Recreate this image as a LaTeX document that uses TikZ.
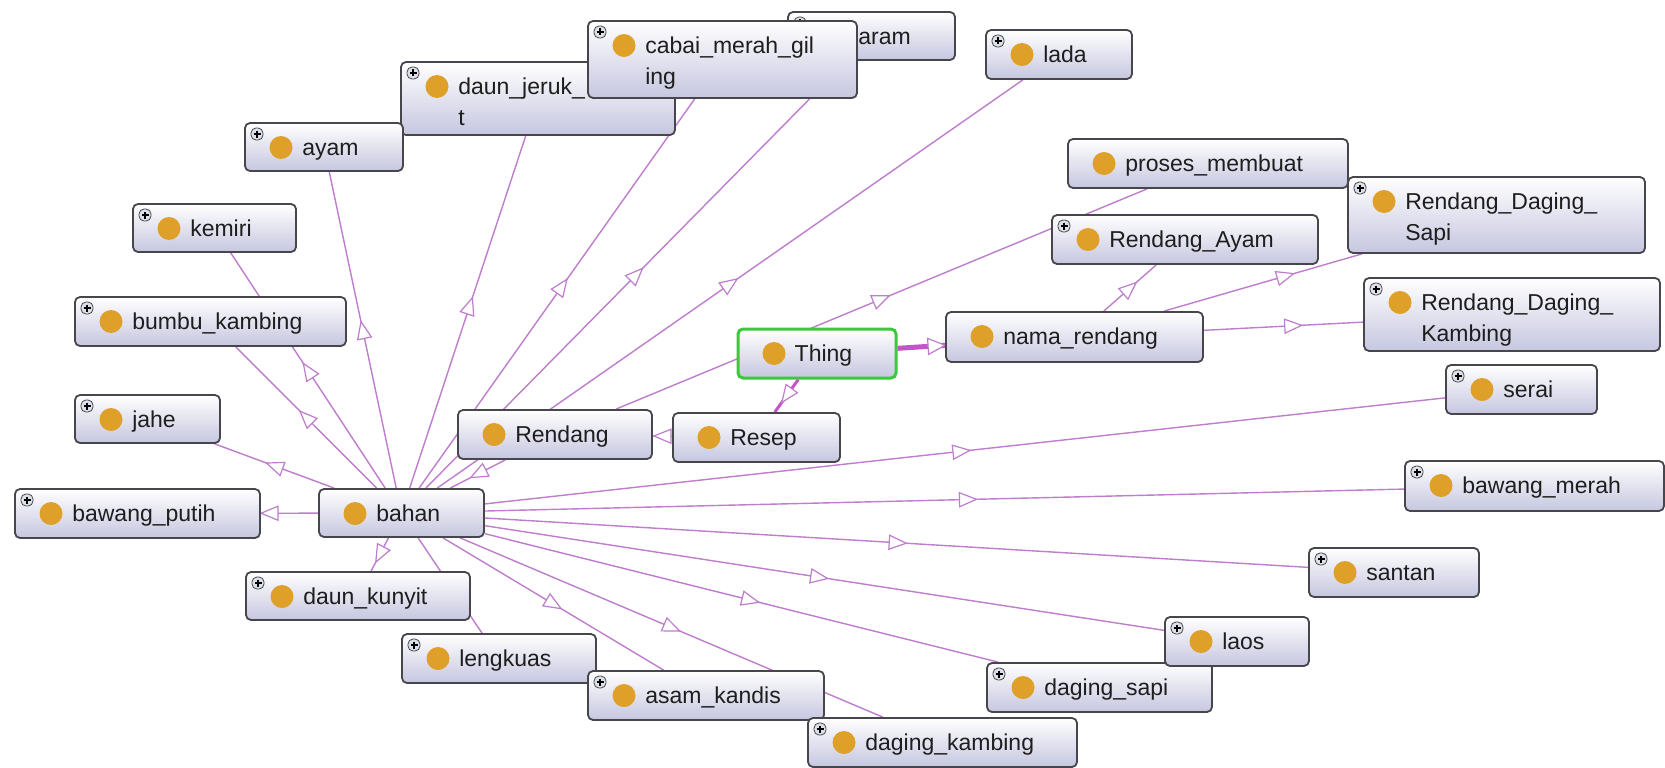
\documentclass[tikz,border=0pt]{standalone}
\usepackage{fontspec}
\setmainfont{Liberation Sans}
\usetikzlibrary{decorations.markings}
\pgfdeclarelayer{background}
\pgfsetlayers{background,main}

\definecolor{edgecol}{RGB}{190,125,205}
\definecolor{thickcol}{RGB}{196,84,200}
\definecolor{boxline}{RGB}{70,70,76}
\definecolor{boxlow}{RGB}{198,198,224}
\definecolor{dotcol}{RGB}{222,160,40}
\definecolor{thinggreen}{RGB}{60,200,60}
\definecolor{txtcol}{RGB}{30,30,30}
\definecolor{plusfill}{RGB}{220,224,232}

\tikzset{
  cls/.style={rectangle, rounded corners=5pt, draw=boxline, line width=1.8pt,
    top color=white, bottom color=boxlow, inner sep=0pt,
    path picture={
      \fill[dotcol] ([shift={(36pt,-24.5pt)}]path picture bounding box.north west) circle (11.5pt);
    }},
  expandable/.style={cls,
    path picture={
      \fill[dotcol] ([shift={(36pt,-24.5pt)}]path picture bounding box.north west) circle (11.5pt);
      \draw[boxline, line width=0.8pt, fill=plusfill]
        ([shift={(6pt,-5pt)}]path picture bounding box.north west) rectangle ++(12pt,-12pt);
      \draw[black, line width=1.5pt]
        ([shift={(8.5pt,-11pt)}]path picture bounding box.north west) -- ++(7pt,0pt);
      \draw[black, line width=1.5pt]
        ([shift={(12pt,-7.5pt)}]path picture bounding box.north west) -- ++(0pt,-7pt);
    }},
  root/.style={cls, draw=thinggreen, line width=3pt},
  lbl/.style={anchor=base west, inner sep=0pt, text=txtcol, font=\fontsize{23}{28}\selectfont},
  link/.style={draw=edgecol, line width=1.4pt},
  thicklink/.style={draw=thickcol, line width=3pt},
  hollowtri/.style={draw=edgecol, line width=1.2pt, fill=white, line join=miter},
  isa/.style={decorate, decoration={markings, mark=at position 0.5 with {
      \draw[hollowtri] (8.5pt,0pt) -- (-8.5pt,7pt) -- (-8.5pt,-7pt) -- cycle;}}},
  isatip/.style={postaction={decorate}, decoration={markings, mark=at position 0.999 with {
      \draw[hollowtri] (0pt,0pt) -- (-17pt,8pt) -- (-17pt,-8pt) -- cycle;}}},
  isamid/.style={postaction={decorate}, decoration={markings, mark=at position 0.5 with {
      \draw[hollowtri] (8.5pt,0pt) -- (-8.5pt,7pt) -- (-8.5pt,-7pt) -- cycle;}}},
}

% class box: style, name, centre x, centre y, width, height
\newcommand\cbox[6]{\node[#1, minimum width=#5pt, minimum height=#6pt] (#2) at (#3,#4) {};}
% first and second text line of a class box
\newcommand\lineA[2]{\node[lbl] (#1-a) at ([shift={(58pt,-33.5pt)}]#1.north west) {#2};}
\newcommand\lineB[2]{\node[lbl] (#1-b) at ([shift={(58pt,-64.5pt)}]#1.north west) {#2};}

\begin{document}
\begin{tikzpicture}[x=1pt, y=-1pt]
\useasboundingbox (0,0) rectangle (1665,768);

% ---- classes ----
\cbox{expandable}{garam}{871.5}{36}{167}{48}
\node[lbl] (garam-a) at ([shift={(71pt,-33.5pt)}]garam.north west) {aram};
\cbox{expandable}{daunjeruk}{538}{98.5}{274}{73}
\lineA{daunjeruk}{daun\_jeruk\_}
\lineB{daunjeruk}{t}
\cbox{expandable}{cabai}{722.5}{59.5}{269}{77}
\lineA{cabai}{cabai\_merah\_gil}
\lineB{cabai}{ing}
\cbox{expandable}{lada}{1059}{54.5}{146}{49}
\lineA{lada}{lada}
\cbox{expandable}{ayam}{324}{147}{158}{48}
\lineA{ayam}{ayam}
\cbox{expandable}{kemiri}{214.5}{228}{163}{48}
\lineA{kemiri}{kemiri}
\cbox{expandable}{bumbu}{210.5}{321.5}{271}{49}
\lineA{bumbu}{bumbu\_kambing}
\cbox{expandable}{jahe}{147.5}{419}{145}{48}
\lineA{jahe}{jahe}
\cbox{expandable}{bawangputih}{137.5}{513.5}{245}{49}
\lineA{bawangputih}{bawang\_putih}
\cbox{cls}{bahan}{401.5}{513}{165}{48}
\lineA{bahan}{bahan}
\cbox{expandable}{daunkunyit}{358}{596}{224}{48}
\lineA{daunkunyit}{daun\_kunyit}
\cbox{expandable}{lengkuas}{499}{658.5}{194}{49}
\lineA{lengkuas}{lengkuas}
\cbox{expandable}{asam}{706}{695.5}{236}{49}
\lineA{asam}{asam\_kandis}
\cbox{expandable}{dagingkambing}{942.5}{742.5}{269}{49}
\lineA{dagingkambing}{daging\_kambing}
\cbox{expandable}{dagingsapi}{1099.5}{687.5}{225}{49}
\lineA{dagingsapi}{daging\_sapi}
\cbox{expandable}{laos}{1237}{641.5}{144}{49}
\lineA{laos}{laos}
\cbox{expandable}{santan}{1394}{572.5}{170}{49}
\lineA{santan}{santan}
\cbox{expandable}{bawangmerah}{1534.5}{486}{259}{50}
\lineA{bawangmerah}{bawang\_merah}
\cbox{expandable}{serai}{1521.5}{389.5}{151}{49}
\lineA{serai}{serai}
\cbox{expandable}{rdk}{1512}{314.5}{296}{73}
\lineA{rdk}{Rendang\_Daging\_}
\lineB{rdk}{Kambing}
\cbox{expandable}{rds}{1496.5}{215}{297}{76}
\lineA{rds}{Rendang\_Daging\_}
\lineB{rds}{Sapi}
\cbox{cls}{proses}{1208}{163.5}{280}{49}
\lineA{proses}{proses\_membuat}
\cbox{expandable}{rayam}{1185}{239.5}{266}{49}
\lineA{rayam}{Rendang\_Ayam}
\cbox{cls}{nama}{1074.5}{337}{257}{50}
\lineA{nama}{nama\_rendang}
\cbox{root}{thing}{817}{353.5}{158}{49}
\lineA{thing}{Thing}
\cbox{cls}{resep}{756.5}{437.5}{167}{49}
\lineA{resep}{Resep}
\cbox{cls}{rendang}{555}{434.5}{194}{49}
\lineA{rendang}{Rendang}

% ---- subclass links, behind the boxes ----
\begin{pgfonlayer}{background}
\fill[white] (0,0) rectangle (1665,768);
\foreach \t in {ayam,kemiri,bumbu,jahe,bawangputih,daunkunyit,lengkuas,asam,
  dagingkambing,dagingsapi,laos,santan,bawangmerah,serai,lada,garam,cabai,daunjeruk}
  {\draw[link] (bahan) -- (\t);}
\draw[link] (rendang) -- (bahan);
\draw[link] (rendang) -- (proses);
\draw[link, isamid] (resep) -- (rendang);
\foreach \t in {rayam,rds,rdk} {\draw[link] (nama) -- (\t);}
\draw[thicklink] (thing) -- (resep);
\draw[thicklink, line width=5pt, isatip] (thing) -- (nama);

\foreach \t in {ayam,kemiri,bumbu,jahe,bawangputih,daunkunyit,lengkuas,asam,
  dagingkambing,dagingsapi,laos,santan,bawangmerah,serai,lada,garam,cabai,daunjeruk}
  {\path[isa] (bahan.center) -- (\t.center);}
\path[isa] (rendang.center) -- (bahan.center);
\path[isa] (rendang.center) -- (proses.center);
\path[isa] (thing.center) -- (resep.center);
\foreach \t in {rayam,rds,rdk} {\path[isa] (nama.center) -- (\t.center);}
\end{pgfonlayer}
\end{tikzpicture}
\end{document}
